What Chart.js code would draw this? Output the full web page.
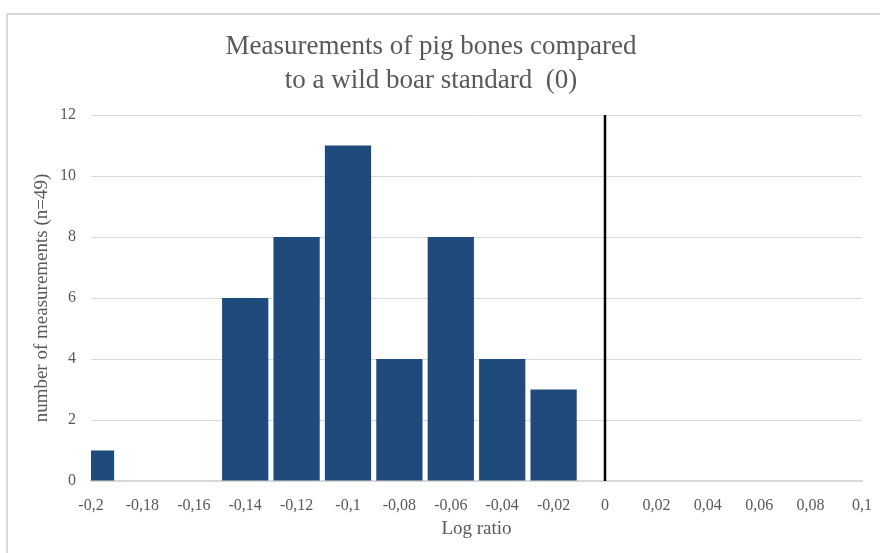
<!DOCTYPE html>
<html lang="en">
<head>
    <meta charset="UTF-8">
    <title>Pig bones log ratio</title>
    <script src="https://cdn.jsdelivr.net/npm/chart.js"></script>
    <style>
        html, body { margin: 0; padding: 0; background: #fff; overflow: hidden; }
        #frame {
            position: absolute; left: 6px; top: 13px; width: 900px; height: 600px;
            border-left: 2px solid #d9d9d9; border-top: 2px solid #d9d9d9;
        }
        #wrap { position: absolute; left: 0; top: 0; width: 880px; height: 553px; }
    </style>
</head>
<body>
    <div id="frame"></div>
    <div id="wrap"><canvas id="boneChart" width="880" height="553"></canvas></div>

    <script>
        // histogram bins (centre of each bin) and counts
        const binCentres = [-0.2, -0.18, -0.16, -0.14, -0.12, -0.1, -0.08, -0.06, -0.04, -0.02];
        const counts = [1, 0, 0, 6, 8, 11, 4, 8, 4, 3];

        // the wild boar standard line at 0
        const standardX = [0, 0];
        const standardY = [0, 12];

        const xTicks = [-0.2, -0.18, -0.16, -0.14, -0.12, -0.1, -0.08, -0.06, -0.04, -0.02,
                        0, 0.02, 0.04, 0.06, 0.08, 0.1];
        const yTicks = [0, 2, 4, 6, 8, 10, 12];

        const grey = '#595959';
        const serif = "'Liberation Serif', 'Times New Roman', serif";

        const ctx = document.getElementById('boneChart').getContext('2d');

        new Chart(ctx, {
            type: 'bar',
            data: {
                datasets: [
                    {
                        type: 'bar',
                        data: binCentres.map((x, i) => ({ x: x, y: counts[i] })),
                        backgroundColor: '#1f4a7c',
                        categoryPercentage: 1,
                        barPercentage: 0.9,
                        order: 2
                    },
                    {
                        type: 'line',
                        data: standardX.map((x, i) => ({ x: x, y: standardY[i] })),
                        borderColor: '#000000',
                        borderWidth: 2.5,
                        pointRadius: 0,
                        fill: false,
                        order: 1
                    }
                ]
            },
            options: {
                responsive: false,
                animation: false,
                layout: { padding: { left: 0, right: 18, top: 0, bottom: 0 } },
                plugins: {
                    legend: { display: false },
                    tooltip: { enabled: false },
                    title: {
                        display: true,
                        text: ['Measurements of pig bones compared', 'to a wild boar standard  (0)'],
                        color: grey,
                        font: { family: serif, size: 27, weight: 'normal', lineHeight: 1.26 },
                        padding: { top: 30, bottom: 17 }
                    }
                },
                scales: {
                    x: {
                        type: 'linear',
                        offset: false,
                        min: -0.2,
                        max: 0.1,
                        afterBuildTicks: s => { s.ticks = xTicks.map(v => ({ value: v })); },
                        afterFit: s => { s.height = 72; s.paddingLeft = 0; s.paddingRight = 0; },
                        grid: { display: false, drawTicks: false },
                        border: { display: true, color: '#d9d9d9', width: 1.5 },
                        ticks: {
                            color: grey,
                            padding: 15,
                            maxRotation: 0,
                            autoSkip: false,
                            font: { family: serif, size: 16 },
                            callback: v => String(Math.round(v * 100) / 100).replace('.', ',')
                        },
                        title: {
                            display: true,
                            text: 'Log ratio',
                            color: grey,
                            font: { family: serif, size: 19 },
                            padding: { top: 0, bottom: 13 }
                        }
                    },
                    y: {
                        min: 0,
                        max: 12,
                        afterBuildTicks: s => { s.ticks = yTicks.map(v => ({ value: v })); },
                        afterFit: s => { s.width = 91; },
                        grid: { color: '#d9d9d9', lineWidth: 1, drawTicks: false },
                        border: { display: false },
                        ticks: {
                            color: grey,
                            padding: 15,
                            font: { family: serif, size: 16 }
                        },
                        title: {
                            display: true,
                            text: 'number of measurements (n=49)',
                            color: grey,
                            font: { family: serif, size: 19 },
                            padding: { top: 31, bottom: 0 }
                        }
                    }
                }
            }
        });
    </script>
</body>
</html>
